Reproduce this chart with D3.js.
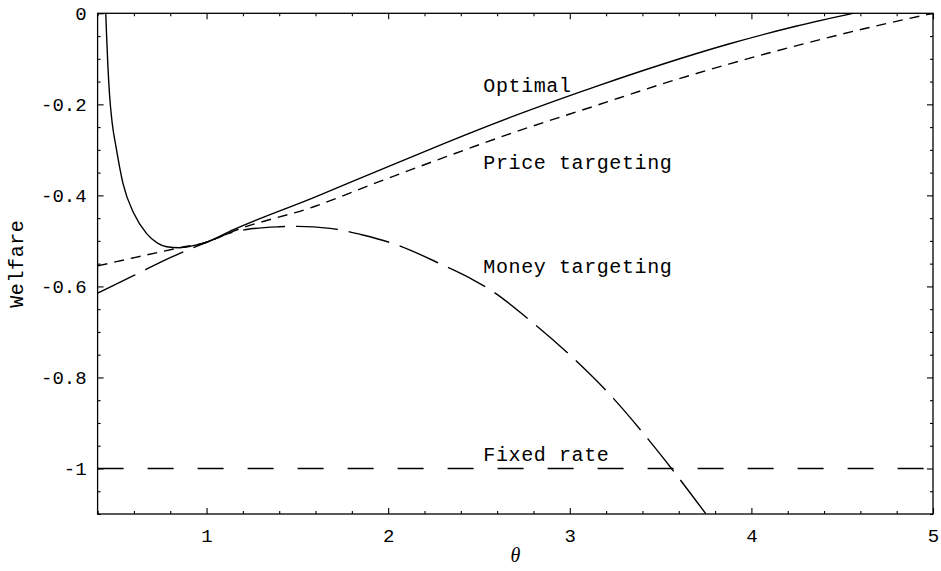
<!DOCTYPE html>
<html>
<head>
<meta charset="utf-8">
<script src="https://cdn.jsdelivr.net/npm/d3@7"></script>
<style>
  body { margin: 0; background: #fff; }
  svg { display: block; }
  .tick text { font-family: "Liberation Mono", monospace; font-size: 19px; fill: #000; }
  .lbl { font-family: "Liberation Mono", monospace; font-size: 20px; letter-spacing: 0.6px; fill: #000; }
</style>
</head>
<body>
<svg id="chart"></svg>
<script>
const WIDTH = 941;
const HEIGHT = 571;
const margin = { top: 13.3, right: 8, bottom: 57, left: 97.6 };

// theta values, one array per curve
const optimalTheta = [0.445, 0.449, 0.456, 0.466, 0.48, 0.5, 0.54, 0.6, 0.67, 0.73, 0.78, 0.85, 0.92, 1.0, 1.145, 1.59, 1.95, 2.32, 2.69, 3.15, 3.51, 3.88, 4.25, 4.56];
const optimalWelfare = [0.0, -0.044, -0.11, -0.18, -0.24, -0.29, -0.374, -0.44, -0.484, -0.505, -0.513, -0.515, -0.511, -0.503, -0.476, -0.405, -0.345, -0.284, -0.226, -0.16, -0.112, -0.067, -0.028, 0.0];

const priceTheta = [0.4, 0.6, 0.853, 1.0, 1.145, 1.59, 1.95, 2.32, 2.69, 3.15, 3.51, 3.88, 4.25, 4.62, 5.0];
const priceWelfare = [-0.555, -0.537, -0.515, -0.503, -0.479, -0.425, -0.37, -0.315, -0.262, -0.202, -0.155, -0.111, -0.071, -0.034, 0.0];

const moneyTheta = [0.4, 0.6, 0.8, 1.0, 1.145, 1.22, 1.4, 1.5, 1.68, 1.86, 2.05, 2.29, 2.47, 2.56, 2.8, 3.02, 3.24, 3.43, 3.56, 3.75];
const moneyWelfare = [-0.615, -0.576, -0.537, -0.503, -0.481, -0.475, -0.469, -0.468, -0.4725, -0.487, -0.509, -0.551, -0.586, -0.607, -0.681, -0.758, -0.846, -0.935, -1.0, -1.1];

const fixedTheta = [0.4, 5.0];
const fixedWelfare = [-1, -1];

const labelNames = ["Optimal", "Price targeting", "Money targeting", "Fixed rate"];
const labelTheta = [2.524, 2.524, 2.524, 2.524];
const labelWelfare = [-0.172, -0.343, -0.571, -0.983];

const xTicks = [1, 2, 3, 4, 5];
const xTickLabels = ["1", "2", "3", "4", "5"];
const yTicks = [0, -0.2, -0.4, -0.6, -0.8, -1];
const yTickLabels = ["0", "-0.2", "-0.4", "-0.6", "-0.8", "-1"];

const svg = d3.select("#chart").attr("width", WIDTH).attr("height", HEIGHT);
const w = WIDTH - margin.left - margin.right;
const h = HEIGHT - margin.top - margin.bottom;

const x = d3.scaleLinear().domain([0.4, 5]).range([margin.left, margin.left + w]);
const y = d3.scaleLinear().domain([-1.1, 0]).range([margin.top + h, margin.top]);

/* minor ticks every 0.2 on theta and 0.05 on welfare */
const xMinor = d3.range(0.4, 5.0001, 0.2).filter((v) => Math.abs(v - Math.round(v)) > 1e-6);
const yMinor = d3.range(-1.1, 0.0001, 0.05).filter((v) => Math.abs(v * 5 - Math.round(v * 5)) > 1e-6);

function strip(g) {
  g.select(".domain").remove();
  g.selectAll(".tick line").attr("stroke", "#000").attr("stroke-width", 1.1);
}

// bottom
svg.append("g").attr("transform", `translate(0,${margin.top + h})`)
  .call(d3.axisBottom(x).tickValues(xMinor).tickSize(-3).tickFormat("")).call(strip);
svg.append("g").attr("transform", `translate(0,${margin.top + h})`)
  .call(d3.axisBottom(x).tickValues(xTicks).tickSize(-6).tickPadding(15)
    .tickFormat((d, i) => xTickLabels[i])).call(strip);
// top
svg.append("g").attr("transform", `translate(0,${margin.top})`)
  .call(d3.axisTop(x).tickValues(xMinor).tickSize(-3).tickFormat("")).call(strip);
svg.append("g").attr("transform", `translate(0,${margin.top})`)
  .call(d3.axisTop(x).tickValues(xTicks).tickSize(-6).tickFormat("")).call(strip);
// left
svg.append("g").attr("transform", `translate(${margin.left},0)`)
  .call(d3.axisLeft(y).tickValues(yMinor).tickSize(-3).tickFormat("")).call(strip);
svg.append("g").attr("transform", `translate(${margin.left},0)`)
  .call(d3.axisLeft(y).tickValues(yTicks).tickSize(-6).tickPadding(11)
    .tickFormat((d, i) => yTickLabels[i])).call(strip);
// right
svg.append("g").attr("transform", `translate(${margin.left + w},0)`)
  .call(d3.axisRight(y).tickValues(yMinor).tickSize(-3).tickFormat("")).call(strip);
svg.append("g").attr("transform", `translate(${margin.left + w},0)`)
  .call(d3.axisRight(y).tickValues(yTicks).tickSize(-6).tickFormat("")).call(strip);

svg.selectAll(".tick text").attr("font-family", null).attr("font-size", null);

/* frame */
svg.append("rect")
  .attr("x", margin.left).attr("y", margin.top)
  .attr("width", w).attr("height", h)
  .attr("fill", "none").attr("stroke", "#000").attr("stroke-width", 1.3);

svg.append("clipPath").attr("id", "plotclip")
  .append("rect").attr("x", margin.left).attr("y", margin.top).attr("width", w).attr("height", h);

const line = d3.line().x((d) => x(d[0])).y((d) => y(d[1])).curve(d3.curveMonotoneX);
const zip = (a, b) => a.map((v, i) => [v, b[i]]);

const series = [
  { pts: zip(fixedTheta, fixedWelfare), dash: "26,24" },
  { pts: zip(moneyTheta, moneyWelfare), dash: "42,11" },
  { pts: zip(priceTheta, priceWelfare), dash: "10,7" },
  { pts: zip(optimalTheta, optimalWelfare), dash: null },
];

const plot = svg.append("g").attr("clip-path", "url(#plotclip)");
plot.selectAll("path.curve")
  .data(series)
  .enter()
  .append("path")
  .attr("class", "curve")
  .attr("d", (d) => line(d.pts))
  .attr("fill", "none")
  .attr("stroke", "#000")
  .attr("stroke-width", 1.4)
  .attr("stroke-dasharray", (d) => d.dash);

svg.selectAll("text.lbl")
  .data(labelNames)
  .enter()
  .append("text")
  .attr("class", "lbl")
  .attr("x", (d, i) => x(labelTheta[i]))
  .attr("y", (d, i) => y(labelWelfare[i]))
  .text((d) => d);

/* axis titles */
svg.append("text")
  .attr("x", margin.left + w / 2)
  .attr("y", 562)
  .attr("text-anchor", "middle")
  .attr("font-family", "Liberation Serif, serif")
  .attr("font-style", "italic")
  .attr("font-size", 20)
  .text("θ");

svg.append("text")
  .attr("class", "lbl")
  .attr("transform", `translate(23,${margin.top + h / 2}) rotate(-90)`)
  .attr("text-anchor", "middle")
  .text("Welfare");
</script>
</body>
</html>
